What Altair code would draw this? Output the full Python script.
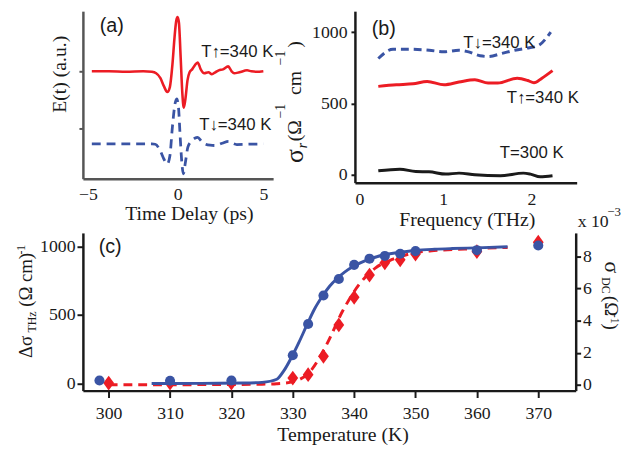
import altair as alt
import pandas as pd

SERIF = "Liberation Serif"
SANS = "Liberation Sans"
RED = "#ec1c24"
BLUE = "#3a54a4"
INK = "#1a1a1a"
GRAY = "#555555"

# ---------------- data ----------------
# (a) THz transients, E(t) in arbitrary units
a_time_up = [-5, -4, -3, -2, -1.5, -1.25, -1.0, -0.8, -0.6, -0.45, -0.3, -0.18, -0.08, 0.0, 0.08,
             0.18, 0.28, 0.36, 0.45, 0.58, 0.7, 0.85, 1.0, 1.17, 1.35, 1.55, 1.8, 2.0, 2.2, 2.4,
             2.65, 2.95, 3.15, 3.3, 3.6, 4.05, 4.3, 4.6, 5.0]
a_field_up = [1.0, 1.0, 0.991, 1.0, 0.991, 0.966, 0.879, 0.741, 0.638, 0.724, 1.121, 1.586, 1.879,
              1.948, 1.845, 1.241, 0.603, 0.362, 0.5, 0.845, 0.983, 1.034, 1.103, 1.155, 1.034,
              0.966, 0.983, 0.948, 0.983, 1.017, 1.034, 1.086, 1.0, 0.966, 0.983, 1.017, 1.0,
              0.991, 1.0]
a_time_down = [-5, -3, -1.5, -1.3, -1.0, -0.8, -0.6, -0.45, -0.3, -0.15, -0.05, 0.05, 0.15, 0.25,
               0.34, 0.45, 0.6, 0.8, 1.0, 1.17, 1.4, 1.6, 1.9, 2.2, 2.6, 2.97, 3.2, 3.45, 4.0, 5.0]
a_field_down = [-0.271, -0.271, -0.271, -0.276, -0.397, -0.534, -0.621, -0.483, 0.034, 0.431,
                0.517, 0.379, -0.138, -0.603, -0.793, -0.603, -0.328, -0.224, -0.172, -0.155,
                -0.224, -0.271, -0.293, -0.298, -0.259, -0.224, -0.259, -0.281, -0.276, -0.271]

# (b) real part of conductivity
b_freq_down = [0.265, 0.432, 0.618, 0.842, 1.009, 1.177, 1.289, 1.419, 1.512, 1.661, 1.81, 1.978, 2.071, 2.22]
b_sigma_down = [815, 880, 880, 873, 862, 873, 862, 834, 829, 850, 873, 891, 903, 1000]
b_freq_up = [0.265, 0.47, 0.66, 0.82, 1.01, 1.18, 1.36, 1.51, 1.62, 1.84, 1.96, 2.03, 2.12, 2.24]
b_sigma_up = [620, 631, 638, 654, 631, 650, 666, 643, 643, 677, 661, 645, 677, 730]
b_freq_300 = [0.265, 0.51, 0.69, 0.84, 1.03, 1.18, 1.36, 1.65, 1.91, 1.99, 2.1, 2.24]
b_sigma_300 = [28, 39, 23, 21, 5, 12, 0, -7, 12, 5, -14, -7]

# (c) temperature dependence
c_temp_thz = [298.5, 310, 320, 330, 332.5, 335, 337.5, 340, 342.5, 345, 347.5, 350, 360, 370]
c_sigma_thz = [22, 20, 22, 206, 434, 642, 763, 866, 911, 931, 947, 966, 973, 1007]
c_temp_dc = [300, 310, 320, 330, 332.5, 335, 337.5, 340, 342.5, 345, 347.5, 350, 360, 370]
c_sigma_dc = [0.12, 0.12, 0.12, 0.43, 0.64, 1.78, 3.73, 5.45, 6.83, 7.59, 7.78, 8.14, 8.29, 8.87]
c_fit_temp_thz = [307, 315, 322, 325, 327.4, 328.5, 329.9, 331, 332.3, 333.5, 334.9, 336, 337.3,
                  338.5, 339.7, 341, 342.4, 345.1, 347.5, 349.9, 353.1, 356, 360, 365]
c_fit_thz = [0, 1, 3, 8, 31, 90, 200, 300, 427, 540, 642, 710, 770, 815, 850, 880, 906, 942, 958,
             971, 980, 985, 990, 998]
c_fit_temp_dc = [300, 310, 320, 325, 327.4, 330.1, 332.8, 335.5, 338.1, 340.8, 343.5, 346.2, 349.9,
                 353, 358, 365]
c_fit_dc = [0.02, 0.02, 0.03, 0.05, 0.08, 0.21, 0.83, 2.5, 4.58, 6.24, 7.28, 7.8, 8.22, 8.35, 8.45, 8.55]


def txt(s, x, y, size, font=SERIF, angle=0, align="left", baseline="alphabetic",
        color=INK, style="normal", opacity=1):
    return alt.Chart(pd.DataFrame({"s": [s]})).mark_text(
        font=font, fontSize=size, angle=angle, align=align, baseline=baseline,
        color=color, fontStyle=style, opacity=opacity
    ).encode(x=alt.value(x), y=alt.value(y), text="s:N")


def c_left_title(opacity=1):
    return [
        txt("Δσ", -51.5, 127, 19, angle=270, opacity=opacity),
        txt("THz", -48, 101, 12, angle=270, opacity=opacity),
        txt("(Ω cm)", -51.5, 75, 19, angle=270, opacity=opacity),
        txt("-1", -58.5, 22, 12, angle=270, opacity=opacity),
    ]


def ax(**kw):
    base = dict(title=None, grid=False, labelFont=SERIF, labelFontSize=18, labelColor=INK,
                domainColor=INK, domainWidth=2.5, tickColor=INK, tickWidth=2)
    base.update(kw)
    return alt.Axis(**base)


# ---------------- panel (a) ----------------
xa = alt.X("t:Q", scale=alt.Scale(domain=[-5.52, 5.57], nice=False, zero=False),
           axis=ax(values=[-5, 0, 5], ticks=False, tickSize=0, labelPadding=7, domainColor=GRAY,
                   labelOffset=alt.condition("datum.value < 0", alt.value(-4), alt.value(0))))
ya = alt.Y("v:Q", scale=alt.Scale(domain=[-0.879, 2.052], nice=False, zero=False),
           axis=ax(values=[0, 1], labels=False, tickSize=4, tickColor=GRAY, domainColor=GRAY))

a_up = alt.Chart(pd.DataFrame({"t": a_time_up, "v": a_field_up})).mark_line(
    color=RED, strokeWidth=2.6, interpolate="monotone").encode(x=xa, y=ya)
a_down = alt.Chart(pd.DataFrame({"t": a_time_down, "v": a_field_down})).mark_line(
    color=BLUE, strokeWidth=2.8, strokeDash=[9, 6], interpolate="monotone").encode(x=xa, y=ya)

panel_a = alt.layer(
    a_up, a_down,
    txt("(a)", 17, 21, 20, font=SANS),
    txt("T↑=340 K", 120, 47, 17, font=SANS),
    txt("T↓=340 K", 118, 121, 17, font=SANS),
    txt("E(t) (a.u.)", -17, 64, 20, angle=270, align="center"),
    txt("Time Delay (ps)", 108, 212, 20, align="center"),
    *c_left_title(opacity=0),
).properties(width=193, height=170)

# ---------------- panel (b) ----------------
xb = alt.X("f:Q", scale=alt.Scale(domain=[0, 2.514], nice=False, zero=False),
           axis=ax(values=[0, 1, 2], ticks=False, tickSize=0, labelPadding=8))
yb = alt.Y("s:Q", scale=alt.Scale(domain=[-55, 1147], nice=False, zero=False),
           axis=ax(values=[0, 500, 1000], format="d", tickSize=4, labelPadding=4))

b_down = alt.Chart(pd.DataFrame({"f": b_freq_down, "s": b_sigma_down})).mark_line(
    color=BLUE, strokeWidth=3, strokeDash=[8, 5], interpolate="monotone").encode(x=xb, y=yb)
b_up = alt.Chart(pd.DataFrame({"f": b_freq_up, "s": b_sigma_up})).mark_line(
    color=RED, strokeWidth=3, interpolate="monotone").encode(x=xb, y=yb)
b_300 = alt.Chart(pd.DataFrame({"f": b_freq_300, "s": b_sigma_300})).mark_line(
    color=INK, strokeWidth=3, interpolate="monotone").encode(x=xb, y=yb)

panel_b = alt.layer(
    b_down, b_up, b_300,
    txt("(b)", 17, 24, 20, font=SANS),
    txt("T↓=340 K", 110, 37, 17, font=SANS),
    txt("T↑=340 K", 154, 93, 17, font=SANS),
    txt("T=300 K", 147, 149, 17, font=SANS),
    txt("σ", -53, 154, 26, angle=270),
    txt("r", -49, 139, 14, angle=270, style="italic"),
    txt("(Ω", -55, 132, 20, angle=270),
    txt("−1", -70.5, 109, 14, angle=270),
    txt("cm", -55, 85, 20, angle=270),
    txt("−1", -70.5, 55, 14, angle=270),
    txt(")", -55, 37, 20, angle=270),
    txt("Frequency (THz)", 114, 218, 20, align="center"),
    txt("x 10", 226, 219, 18),
    txt("−3", 256, 208, 13),
).properties(width=225, height=174)

# ---------------- panel (c) ----------------
xc = alt.X("T:Q", scale=alt.Scale(domain=[295.8, 376.1], nice=False, zero=False),
           axis=ax(values=list(range(300, 371, 10)), tickSize=7, labelPadding=7))
yl = alt.Y("v:Q", scale=alt.Scale(domain=[-52, 1099], nice=False, zero=False),
           axis=ax(values=[0, 500, 1000], format="d", orient="left", tickSize=6, labelPadding=2))
yr = alt.Y("r:Q", scale=alt.Scale(domain=[-0.35, 9.45], nice=False, zero=False),
           axis=ax(values=[0, 2, 4, 6, 8], format="d", orient="right", tickSize=5, labelPadding=2))

c_red_line = alt.Chart(pd.DataFrame({"T": c_fit_temp_dc, "r": c_fit_dc})).mark_line(
    color=RED, strokeWidth=3, strokeDash=[9, 6], interpolate="monotone").encode(x=xc, y=yr)
c_red_pts = alt.Chart(pd.DataFrame({"T": c_temp_dc, "r": c_sigma_dc})).mark_point(
    shape="M0,-1L0.73,0L0,1L-0.73,0Z", filled=True, size=225, color=RED, opacity=1).encode(x=xc, y=yr)
c_blue_line = alt.Chart(pd.DataFrame({"T": c_fit_temp_thz, "v": c_fit_thz})).mark_line(
    color=BLUE, strokeWidth=3, interpolate="monotone").encode(x=xc, y=yl)
c_blue_pts = alt.Chart(pd.DataFrame({"T": c_temp_thz, "v": c_sigma_thz})).mark_circle(
    size=105, color=BLUE, opacity=1).encode(x=xc, y=yl)

right_part = alt.layer(c_red_line, c_red_pts)
left_part = alt.layer(c_blue_line, c_blue_pts)

panel_c = alt.layer(
    right_part, left_part,
    txt("(c)", 16, 20, 20, font=SANS),
    *c_left_title(),
    txt("σ", 530, 29, 22, angle=90),
    txt("DC", 527, 45, 12, angle=90),
    txt("(Ω", 530, 64, 19, angle=90),
    txt("-1", 536, 82, 12, angle=90),
    txt(")", 530, 92, 19, angle=90),
    txt("Temperature (K)", 264, 211, 20, align="center"),
).resolve_scale(y="independent").properties(width=500, height=160)

top = alt.hconcat(panel_a, panel_b, spacing=83, bounds="flush")
chart = alt.vconcat(top, panel_c, spacing=2).properties(
    padding={"left": 7, "top": 0, "right": 0, "bottom": 0}
).configure_view(stroke=None).configure_axis(labelFont=SERIF)

chart.save("out.html", embed_options={"renderer": "svg", "actions": False})
